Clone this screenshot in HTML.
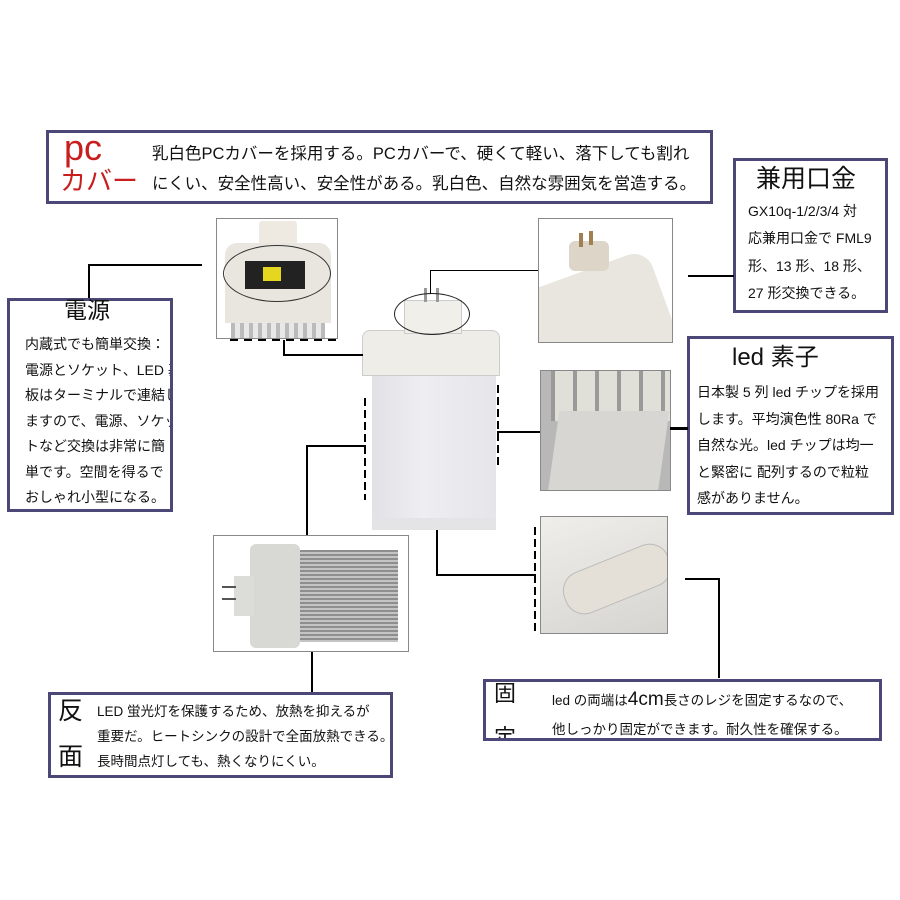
<!DOCTYPE html>
<html><head><meta charset="utf-8"><style>
body{margin:0;width:900px;height:900px;background:#fff;position:relative;overflow:hidden;font-family:"Liberation Sans","Noto Sans CJK JP",sans-serif;color:#111}
.a{position:absolute}
.box{position:absolute;border:3px solid #4b4878;box-sizing:border-box;background:#fff;overflow:hidden}
.ph{position:absolute;border:1px solid #888;box-sizing:border-box;overflow:hidden;background:#fff}
.l{position:absolute;background:#000}
.t{position:absolute;white-space:nowrap;font-size:14px;line-height:16px}
</style></head><body>

<!-- PC cover box -->
<div class="box" style="left:46px;top:130px;width:667px;height:74px"></div>
<div class="t" style="left:64px;top:128px;font-size:36px;line-height:40px;color:#c81e1e">pc</div>
<div class="t" style="left:60px;top:166px;font-size:26px;line-height:30px;color:#c81e1e">カバー</div>
<div class="t" style="left:152px;top:144px;font-size:16.5px;line-height:20px">乳白色PCカバーを採用する。PCカバーで、硬くて軽い、落下しても割れ</div>
<div class="t" style="left:152px;top:174px;font-size:16.5px;line-height:20px">にくい、安全性高い、安全性がある。乳白色、自然な雰囲気を営造する。</div>

<!-- 兼用口金 box -->
<div class="box" style="left:733px;top:158px;width:155px;height:155px"></div>
<div class="t" style="left:756px;top:164px;font-size:25px;line-height:30px">兼用口金</div>
<div class="t" style="left:748px;top:203px">GX10q-1/2/3/4 対</div>
<div class="t" style="left:748px;top:230px">応兼用口金で FML9</div>
<div class="t" style="left:748px;top:258px">形、13 形、18 形、</div>
<div class="t" style="left:748px;top:285px">27 形交換できる。</div>

<!-- 電源 box -->
<div class="box" style="left:7px;top:298px;width:166px;height:214px"></div>
<div class="t" style="left:64px;top:296px;font-size:23px;line-height:28px">電源</div>
<div class="a" style="left:25px;top:332px;width:145px;overflow:hidden">
<div class="t" style="position:static;line-height:25.5px">内蔵式でも簡単交換：<br>電源とソケット、LED 基<br>板はターミナルで連結し<br>ますので、電源、ソケッ<br>トなど交換は非常に簡<br>単です。空間を得るで<br>おしゃれ小型になる。</div></div>

<!-- led 素子 box -->
<div class="box" style="left:687px;top:336px;width:207px;height:179px"></div>
<div class="t" style="left:732px;top:343px;font-size:24px;line-height:30px">led 素子</div>
<div class="t" style="left:697px;top:379px;line-height:26.5px">日本製 5 列 led チップを採用<br>します。平均演色性 80Ra で<br>自然な光。led チップは均一<br>と緊密に 配列するので粒粒<br>感がありません。</div>

<!-- 反面 box -->
<div class="box" style="left:48px;top:692px;width:345px;height:86px"></div>
<div class="t" style="left:58px;top:696px;font-size:25px;line-height:30px">反</div>
<div class="t" style="left:58px;top:742px;font-size:25px;line-height:30px">面</div>
<div class="t" style="left:97px;top:699px;font-size:13.5px;line-height:25px">LED 蛍光灯を保護するため、放熱を抑えるが<br>重要だ。ヒートシンクの設計で全面放熱できる。<br>長時間点灯しても、熱くなりにくい。</div>

<!-- 固定 box -->
<div class="box" style="left:483px;top:679px;width:399px;height:62px">
<div class="t" style="left:8px;top:-2px;font-size:22px;line-height:28px">固</div>
<div class="t" style="left:8px;top:42px;font-size:22px;line-height:28px">定</div>
</div>
<div class="t" style="left:552px;top:690px;font-size:13.5px;line-height:20px">led の両端は<span style="font-size:19px">4cm</span>長さのレジを固定するなので、</div>
<div class="t" style="left:552px;top:720px;font-size:13.5px;line-height:20px">他しっかり固定ができます。耐久性を確保する。</div>

<!-- photo: power -->
<div class="ph" style="left:216px;top:218px;width:122px;height:121px">
 <div class="a" style="left:42px;top:2px;width:38px;height:26px;background:#eeeae2;border-radius:3px"></div>
 <div class="a" style="left:8px;top:24px;width:106px;height:80px;background:#e8e6de;border-radius:12px 12px 0 0"></div>
 <div class="a" style="left:28px;top:42px;width:60px;height:28px;background:#222"></div>
 <div class="a" style="left:46px;top:48px;width:18px;height:14px;background:#e5d620"></div>
 <div class="a" style="left:6px;top:26px;width:106px;height:55px;border:1px solid #333;border-radius:50%"></div>
 <div class="a" style="left:14px;top:104px;width:94px;height:17px;background:repeating-linear-gradient(90deg,#bbb 0 4px,#e8e8e8 4px 9px)"></div>
</div>
<!-- photo: socket -->
<div class="ph" style="left:538px;top:218px;width:135px;height:125px">
 <div class="a" style="left:-10px;top:50px;width:140px;height:110px;background:#e9e6df;transform:rotate(-20deg);border-radius:20px"></div>
 <div class="a" style="left:30px;top:22px;width:40px;height:30px;background:#ddd6c8;border-radius:6px"></div>
 <div class="a" style="left:40px;top:14px;width:4px;height:14px;background:#a08050"></div>
 <div class="a" style="left:50px;top:12px;width:4px;height:14px;background:#a08050"></div>
</div>
<!-- photo: led -->
<div class="ph" style="left:540px;top:370px;width:131px;height:121px;background:#b8b8b8">
 <div class="a" style="left:10px;top:0;width:120px;height:50px;background:repeating-linear-gradient(90deg,#9a9a9a 0 4px,#e0e0d8 4px 22px)"></div>
 <div class="a" style="left:12px;top:40px;width:110px;height:90px;background:#d8d6d2;transform:skewX(-8deg)"></div>
</div>
<!-- photo: fixing -->
<div class="ph" style="left:540px;top:516px;width:128px;height:118px;background:#e8e6e2">
 <div class="a" style="left:0;top:0;width:128px;height:118px;background:linear-gradient(160deg,#f0eeea,#d6d4d0)"></div>
 <div class="a" style="left:20px;top:40px;width:110px;height:42px;background:#e4e0d8;border-radius:20px;transform:rotate(-22deg);border:1px solid #bbb"></div>
</div>
<!-- photo: heat sink -->
<div class="ph" style="left:213px;top:535px;width:196px;height:117px">
 <div class="a" style="left:82px;top:14px;width:102px;height:92px;background:repeating-linear-gradient(180deg,#8e8e8e 0 2px,#c4c4c4 2px 4px)"></div>
 <div class="a" style="left:36px;top:8px;width:50px;height:104px;background:#d8d8d4;border-radius:6px"></div>
 <div class="a" style="left:20px;top:40px;width:20px;height:40px;background:#dcdcd8"></div>
 <div class="a" style="left:8px;top:50px;width:14px;height:2px;background:#555"></div>
 <div class="a" style="left:8px;top:62px;width:14px;height:2px;background:#555"></div>
</div>

<!-- center lamp -->
<div class="a" style="left:372px;top:370px;width:124px;height:160px;background:linear-gradient(90deg,#e2e2e6,#eeeef2 40%,#e6e6ea);border-radius:4px"></div>
<div class="a" style="left:362px;top:330px;width:136px;height:44px;background:#eeede7;border:1px solid #ccc;border-radius:8px 8px 0 0"></div>
<div class="a" style="left:372px;top:518px;width:124px;height:12px;background:#e4e4e6"></div>
<div class="a" style="left:404px;top:300px;width:56px;height:32px;background:#f0efea;border:1px solid #ccc"></div>
<div class="a" style="left:424px;top:288px;width:3px;height:14px;background:#999"></div>
<div class="a" style="left:436px;top:288px;width:3px;height:14px;background:#999"></div>
<div class="a" style="left:394px;top:293px;width:74px;height:40px;border:1px solid #222;border-radius:50%"></div>

<!-- connectors -->
<div class="l" style="left:88px;top:264px;width:2px;height:34px"></div>
<div class="l" style="left:88px;top:264px;width:114px;height:2px"></div>
<div class="a" style="left:230px;top:339px;width:106px;height:2px;background:repeating-linear-gradient(90deg,#000 0 8px,transparent 8px 14px)"></div>
<div class="l" style="left:283px;top:340px;width:2px;height:15px"></div>
<div class="l" style="left:283px;top:354px;width:80px;height:2px"></div>
<div class="l" style="left:430px;top:270px;width:1px;height:24px"></div>
<div class="l" style="left:430px;top:270px;width:108px;height:1px"></div>
<div class="l" style="left:688px;top:275px;width:46px;height:2px"></div>
<div class="a" style="left:364px;top:398px;width:2px;height:102px;background:repeating-linear-gradient(180deg,#000 0 8px,transparent 8px 12px)"></div>
<div class="l" style="left:306px;top:445px;width:60px;height:2px"></div>
<div class="l" style="left:306px;top:445px;width:2px;height:90px"></div>
<div class="a" style="left:497px;top:385px;width:2px;height:80px;background:repeating-linear-gradient(180deg,#000 0 8px,transparent 8px 12px)"></div>
<div class="l" style="left:497px;top:431px;width:43px;height:2px"></div>
<div class="l" style="left:670px;top:427px;width:18px;height:3px"></div>
<div class="l" style="left:436px;top:530px;width:2px;height:46px"></div>
<div class="l" style="left:436px;top:574px;width:100px;height:2px"></div>
<div class="a" style="left:534px;top:527px;width:2px;height:106px;background:repeating-linear-gradient(180deg,#000 0 8px,transparent 8px 12px)"></div>
<div class="l" style="left:685px;top:578px;width:35px;height:2px"></div>
<div class="l" style="left:718px;top:578px;width:2px;height:100px"></div>
<div class="l" style="left:311px;top:652px;width:2px;height:40px"></div>

</body></html>
